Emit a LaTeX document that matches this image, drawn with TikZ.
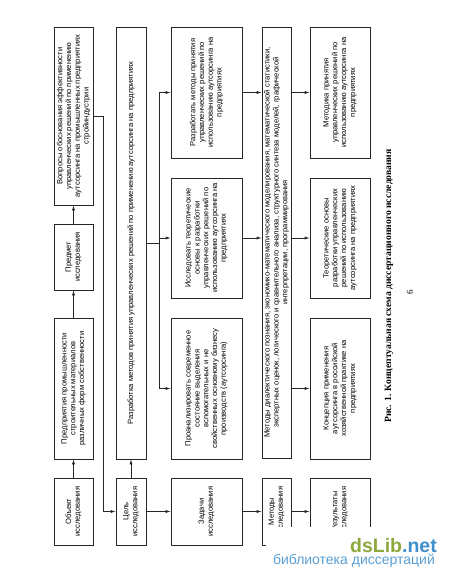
\documentclass[tikz,border=0pt]{standalone}
\usepackage{fontspec}
\setmainfont{Liberation Sans}
\newfontfamily\capfont{Liberation Serif}
\usetikzlibrary{arrows.meta}
\definecolor{dsgreen}{HTML}{8DA83C}
\definecolor{dsblue}{HTML}{3E8FCB}

\begin{document}
\begin{tikzpicture}[x=1pt, y=-1pt, every node/.style={font=\fontsize{7.6}{8.8}\selectfont},
  box/.style={draw=black!85, line width=0.6pt, rotate=90, align=center, inner sep=1pt},
  objrow/.style={box, minimum height=39pt}, goalrow/.style={box, minimum height=30pt},
  taskrow/.style={box, minimum height=71pt}, methrow/.style={box, minimum height=29pt},
  resrow/.style={box, minimum height=60pt},
  arr/.style={draw=black!85, line width=0.6pt, -{Latex[length=5pt,width=3pt]}}]
	\useasboundingbox (0,0) rectangle (450,582);
	% object and subject of the study
	\node[objrow, minimum width=67pt] (obj) at (73.5,511.5) {Объект\\исследования};
	\node[objrow, minimum width=141pt] (pred) at (73.5,388.5) {Предприятия промышленности\\строительных материалов\\различных форм собственности};
	\node[objrow, minimum width=66pt] (subj) at (73.5,257) {Предмет\\исследования};
	\node[objrow, minimum width=178pt] (quest) at (73.5,116) {Вопросы обоснования эффективности\\управленческих решений по применению\\аутсорсинга на промышленных предприятиях\\стройиндустрии};
	% goal
	\node[goalrow, minimum width=67pt] (goal) at (131,511.5) {Цель\\исследования};
	\node[goalrow, minimum width=432pt] (dev) at (131,243) {Разработка методов принятия управленческих решений по применению аутсорсинга на предприятиях};
	% tasks
	\node[taskrow, minimum width=67pt] (tasks) at (206.5,511.5) {Задачи\\исследования};
	\node[taskrow, minimum width=141pt] (t1) at (206.5,388.5) {Проанализировать современное\\состояние выделения\\вспомогательных и не\\свойственных основному бизнесу\\производств (аутсорсинга)};
	\node[taskrow, minimum width=120pt] (t2) at (206.5,238) {Исследовать теоретические\\основы к разработки\\управленческих решений по\\использованию аутсорсинга на\\предприятиях};
	\node[taskrow, minimum width=131pt] (t3) at (206.5,92.5) {Разработать методы принятия\\управленческих решений по\\использованию аутсорсинга на\\предприятиях};
	% methods
	\node[methrow, minimum width=67pt] (meth) at (276.5,511.5) {Методы\\исследования};
	\node[methrow, minimum width=431pt] (methods) at (276.5,242.5) {Методы диалектического познания, экономико-математического моделирования, математической статистики,\\экспертных оценок, логического и сравнительного анализа, структурного синтеза моделей, графической\\интерпретации, программирования};
	% results
	\node[resrow, minimum width=67pt] (res) at (340,511.5) {Результаты\\исследования};
	\node[resrow, minimum width=141pt] (r1) at (340,388.5) {Концепция применения\\аутсорсинга в российской\\хозяйственной практике на\\предприятиях};
	\node[resrow, minimum width=120pt] (r2) at (340,238) {Теоретические основы\\разработки управленческих\\решений по использованию\\аутсорсинга на предприятиях};
	\node[resrow, minimum width=131pt] (r3) at (340,92.5) {Методика принятия\\управленческих решений по\\использованию аутсорсинга на\\предприятиях};
	% connectors
	\foreach \a/\b in {obj/pred, pred/subj, subj/quest, goal/dev} {\draw[arr] (\a.east) -- (\b.west);}
	\foreach \a/\b in {goal/tasks, tasks/meth, meth/res} {\draw[arr] (\a.south) -- (\b.north);}
	\draw[arr] (quest.south) -- ++(10,0) |- (goal.north);
	\coordinate (split) at ([xshift=13pt]dev.south);
	\draw[draw=black!85, line width=0.6pt] (split |- t3.north) -- (split |- t1.north);
	\foreach \t in {t1,t2,t3} {\draw[arr] (split |- \t.north) -- (\t.north);}
	\draw[draw=black!85, line width=0.6pt] (dev.south) -- (split);
	\foreach \t in {t2,t3} {\draw[arr] (\t.south) -- (\t.south -| methods.north);}
	\foreach \r in {r1,r2,r3} {\draw[arr] (\r.north -| methods.south) -- (\r.north);}
	% caption and page number
	\node[rotate=90, font=\capfont\bfseries\fontsize{9.6}{11}\selectfont] (cap) at (389,286) {Рис. 1. Концептуальная схема диссертационного исследования};
	\node[rotate=90, font=\capfont\fontsize{9}{10}\selectfont] (pg) at (410,292) {6};
	% watermark
	\fill[white] (266,527) rectangle (450,582);
	\node[anchor=base east, inner sep=0pt, font=\bfseries\fontsize{19.5}{20}\selectfont] (wm) at (437,552) {\textcolor{dsgreen}{dsLib}\textcolor{dsblue}{.net}};
	\node[anchor=base east, inner sep=0pt, text=dsblue!85, font=\fontsize{14}{15}\selectfont] (wmsub) at (435,564) {библиотека диссертаций};
\end{tikzpicture}
\end{document}
